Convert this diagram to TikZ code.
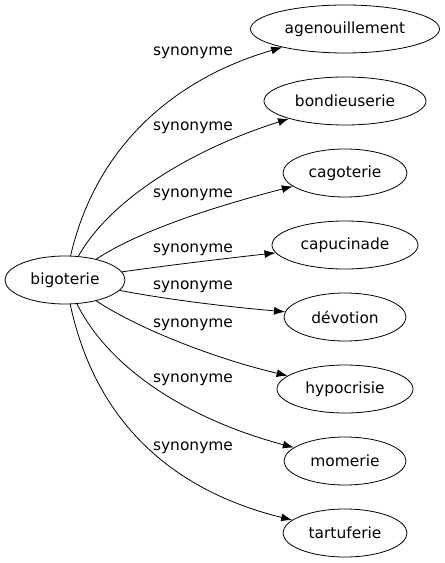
\documentclass[tikz,border=0pt]{standalone}
\usepackage{fontspec}
\setmainfont{DejaVu Sans}
\usetikzlibrary{shapes.geometric,arrows.meta}
\begin{document}
\begin{tikzpicture}[x=1bp,y=-1bp,
  term/.style={draw,ellipse,line width=0.8bp,inner sep=0pt,minimum height=48bp,font=\fontsize{15.5}{18}\selectfont},
  lbl/.style={inner sep=0pt,font=\fontsize{15.5}{18}\selectfont},
  link/.style={line width=0.8bp,-{Latex[length=11bp,width=8bp]}}]
\useasboundingbox (0,0) rectangle (445,563);
\node[term,minimum width=120bp] (bigo) at (65,280) {bigoterie};
\node[term,minimum width=189bp] (agen) at (345,29) {agenouillement};
\node[term,minimum width=162bp] (bond) at (345,101) {bondieuserie};
\node[term,minimum width=124bp] (cago) at (345,173) {cagoterie};
\node[term,minimum width=146bp] (capu) at (345,245) {capucinade};
\node[term,minimum width=122bp] (devo) at (345,317) {dévotion};
\node[term,minimum width=136bp] (hypo) at (345,389) {hypocrisie};
\node[term,minimum width=122bp] (mome) at (345,461) {momerie};
\node[term,minimum width=124bp] (tart) at (345,533) {tartuferie};
\node[lbl] (l1) at (193,53) {synonyme};
\node[lbl] (l2) at (193,128) {synonyme};
\node[lbl] (l3) at (193,195) {synonyme};
\node[lbl] (l4) at (193,250) {synonyme};
\node[lbl] (l5) at (193,287) {synonyme};
\node[lbl] (l6) at (193,325) {synonyme};
\node[lbl] (l7) at (193,380) {synonyme};
\node[lbl] (l8) at (193,448) {synonyme};
\draw[link] (bigo) .. controls (95,150) and (170,80) .. (agen);
\draw[link] (bigo) .. controls (110,200) and (190,150) .. (bond);
\draw[link] (bigo) .. controls (140,230) and (220,205) .. (cago);
\draw[link] (bigo) .. controls (170,265) and (230,258) .. (capu);
\draw[link] (bigo) .. controls (170,300) and (230,307) .. (devo);
\draw[link] (bigo) .. controls (140,330) and (220,360) .. (hypo);
\draw[link] (bigo) .. controls (110,370) and (190,420) .. (mome);
\draw[link] (bigo) .. controls (95,420) and (170,490) .. (tart);
\end{tikzpicture}
\end{document}
